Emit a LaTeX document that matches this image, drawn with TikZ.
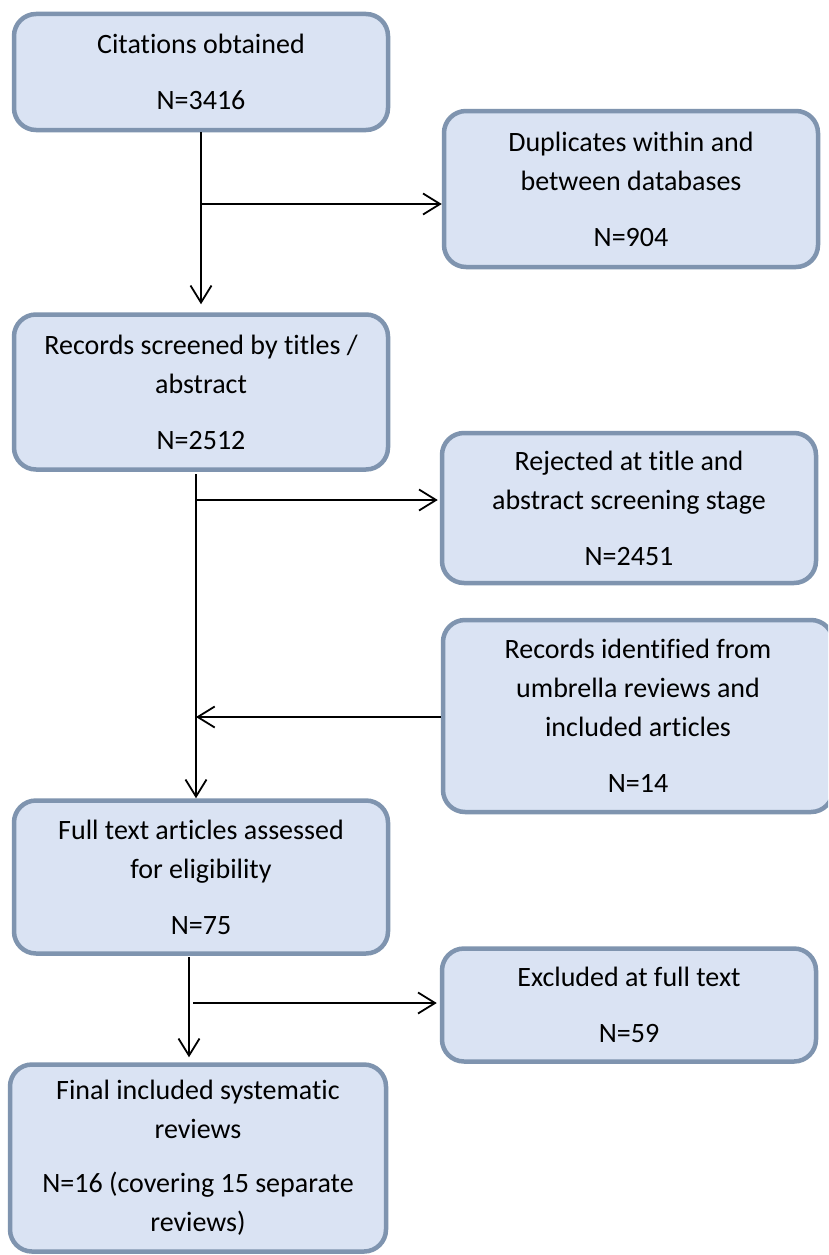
\documentclass[tikz,border=0pt]{standalone}
\usepackage{fontspec}
\setmainfont[Ligatures=NoCommon]{Carlito}
\usetikzlibrary{arrows.meta}
\definecolor{boxfill}{HTML}{DAE3F3}
\definecolor{boxline}{HTML}{7F94AF}
\begin{document}
\begin{tikzpicture}[x=1pt,y=-1pt,
  box/.style={draw=boxline, fill=boxfill, line width=4.5pt, rounded corners=22pt,
    align=center, inner sep=0pt, font=\fontsize{28}{39}\selectfont},
  arr/.style={line width=1.8pt, -{Straight Barb[length=17pt,width=21pt,line width=1.8pt]}},
  ln/.style={line width=1.8pt}]
\useasboundingbox (0,0) rectangle (828,1255);
\clip (0,0) rectangle (828,1255);
\fill[white] (0,0) rectangle (828,1255);
\node[box, minimum width=374pt, minimum height=116pt] (b1) at (201,72)
  {Citations obtained\\[17pt]N=3416};
\node[box, minimum width=374pt, minimum height=156pt] (b2) at (631,189)
  {Duplicates within and\\between databases\\[17pt]N=904};
\node[box, minimum width=374pt, minimum height=155pt] (b3) at (201,392)
  {Records screened by titles /\\abstract\\[17pt]N=2512};
\node[box, minimum width=374pt, minimum height=150pt] (b4) at (629,508)
  {Rejected at title and\\abstract screening stage\\[17pt]N=2451};
\node[box, minimum width=390pt, minimum height=192pt] (b5) at (638,716)
  {Records identified from\\umbrella reviews and\\included articles\\[17pt]N=14};
\node[box, minimum width=374pt, minimum height=153pt] (b6) at (201,877)
  {Full text articles assessed\\for eligibility\\[17pt]N=75};
\node[box, minimum width=374pt, minimum height=113pt] (b7) at (629,1005)
  {Excluded at full text\\[17pt]N=59};
\node[box, minimum width=376pt, minimum height=187pt] (b8) at (198,1158)
  {Final included systematic\\reviews\\[15pt]N=16 (covering 15 separate\\reviews)};
% connectors
\coordinate (j1) at (201,204);
\draw[arr] (b1.south) -- ([yshift=8pt]b3.north);
\draw[arr] (j1) -- (j1 -| b2.west);
\coordinate (t2) at (196,474);
\coordinate (j2) at (196,500);
\coordinate (j3) at (196,717);
\draw[arr] (t2) -- (t2 |- b6.north);
\draw[arr] (j2) -- ([xshift=-2pt]j2 -| b4.west);
\draw[arr] (j3 -| b5.west) -- (j3);
\coordinate (t3) at (189,957);
\coordinate (j4) at (193,1003);
\draw[arr] (t3) -- ([yshift=5pt]t3 |- b8.north);
\draw[arr] (j4) -- ([xshift=-3pt]j4 -| b7.west);
\end{tikzpicture}
\end{document}
